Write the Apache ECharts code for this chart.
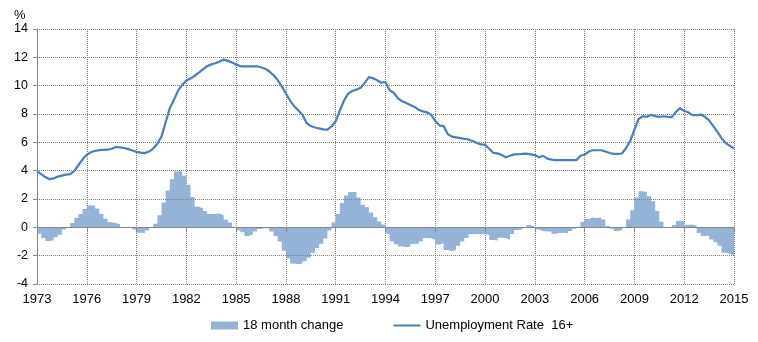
<!DOCTYPE html>
<html>
<head>
<meta charset="utf-8">
<script src="https://cdn.jsdelivr.net/npm/echarts@6/dist/echarts.min.js"></script>
<style>html,body{margin:0;padding:0;background:#fff;}#c{width:758px;height:342px;}</style>
</head>
<body>
<div id="c"></div>
<script>
// ---- data ----
const startYear = 1973;
const xTickYears = [1973,1976,1979,1982,1985,1988,1991,1994,1997,2000,2003,2006,2009,2012,2015];
const seriesNames = ['18 month change', 'Unemployment Rate  16+'];
// Unemployment rate 16+, quarterly samples from 1973.00 to 2015.00
const unemploymentRate = [
  3.96,3.75,3.55,3.40,  3.45,3.58,3.65,3.72,  3.76,3.98,4.40,4.80,  5.12,5.30,5.40,5.45,
  5.47,5.48,5.55,5.67,  5.65,5.60,5.52,5.42,  5.33,5.27,5.24,5.35,  5.56,5.90,6.40,7.40,
  8.40,9.00,9.65,10.05, 10.37,10.50,10.70,10.92, 11.15,11.38,11.50,11.58, 11.70,11.84,11.75,11.64,
  11.50,11.38,11.36,11.36, 11.36,11.37,11.30,11.20, 11.00,10.75,10.40,9.95, 9.45,8.95,8.55,8.25,
  7.95,7.35,7.15,7.05,  6.98,6.92,6.90,7.12,  7.50,8.25,8.95,9.44,  9.62,9.72,9.85,10.20,
  10.60,10.52,10.38,10.21, 10.25,9.67,9.50,9.10, 8.90,8.77,8.64,8.50, 8.30,8.18,8.12,7.95,
  7.50,7.20,7.15,6.58,  6.40,6.35,6.30,6.25,  6.20,6.10,5.95,5.85,  5.82,5.55,5.25,5.22,
  5.10,4.95,5.05,5.15,  5.16,5.18,5.20,5.15,  5.10,4.95,5.05,4.85,  4.78,4.75,4.74,4.74,
  4.74,4.74,4.74,5.05,  5.14,5.35,5.44,5.44,  5.44,5.35,5.25,5.19,  5.19,5.21,5.60,6.10,
  6.90,7.65,7.84,7.80,  7.95,7.85,7.80,7.84,  7.80,7.78,8.14,8.42,  8.21,8.12,7.92,7.92,
  7.96,7.80,7.55,7.15,  6.73,6.30,5.95,5.75,  5.57
];
// 18 month change, one value per quarter, 1973 Q1 to 2014 Q4
const change18m = [
  -0.45,-0.75,-0.97,-0.93, -0.70,-0.52,-0.15,0.02, 0.30,0.68,0.95,1.30, 1.55,1.55,1.33,0.95,
  0.60,0.36,0.30,0.21, 0,0,0,-0.15, -0.38,-0.40,-0.23,-0.03, 0.25,0.85,1.75,2.60,
  3.40,3.95,3.98,3.65, 3.00,2.15,1.45,1.34, 1.15,0.95,0.94,0.98, 0.85,0.55,0.35,0.05,
  -0.20,-0.35,-0.61,-0.50, -0.30,-0.12,-0.05,-0.08, -0.30,-0.62,-1.00,-1.65, -2.20,-2.55,-2.60,-2.55,
  -2.40,-2.15,-1.80,-1.45, -1.15,-0.78,-0.20,0.35, 0.95,1.72,2.25,2.50, 2.50,2.10,1.60,1.42,
  1.05,0.72,0.42,0.20, -0.45,-1.00,-1.20,-1.36, -1.40,-1.35,-1.17,-1.15, -1.00,-0.76,-0.77,-0.90,
  -1.22,-1.13,-1.60,-1.67, -1.60,-1.30,-1.00,-0.75, -0.48,-0.47,-0.49,-0.49, -0.54,-0.90,-0.93,-0.73,
  -0.75,-0.89,-0.47,-0.19, -0.15,0,0.16,0.05, -0.15,-0.26,-0.30,-0.30, -0.45,-0.40,-0.38,-0.42,
  -0.25,-0.10,0.05,0.38, 0.58,0.70,0.66,0.70, 0.55,0.10,-0.10,-0.26, -0.20,-0.05,0.55,1.20,
  2.10,2.55,2.50,2.20, 1.85,1.15,0.40,0, -0.05,0.16,0.45,0.45, 0.18,0.20,0.12,-0.40,
  -0.62,-0.60,-0.85,-1.05, -1.30,-1.80,-1.88,-1.98
];
const yTicks = [-4,-2,0,2,4,6,8,10,12,14];

// ---- chart ----
const FONT = '"Liberation Sans", Arial, sans-serif';
const lineData = unemploymentRate.map((v, i) => [i / 4, v]);
// each quarter's column spans [i/4, (i+1)/4]; drawn as a stepped area
const changeData = change18m.map((v, i) => [i / 4, v]);
changeData.push([change18m.length / 4, change18m[change18m.length - 1]]);
const axisGray = '#868686';
const gridGray = '#7f7f7f';
const xMax = xTickYears[xTickYears.length - 1] - startYear;

const chart = echarts.init(document.getElementById('c'), null, {renderer: 'canvas'});
chart.setOption({
  animation: false,
  backgroundColor: '#ffffff',
  textStyle: {fontFamily: FONT},
  grid: {left: 37, right: 24, top: 29, bottom: 58, containLabel: false},
  graphic: [{type: 'text', left: 14, top: 9, style: {text: '%', font: '13px ' + FONT, fill: '#000'}}],
  legend: {
    left: 206, top: 314, itemGap: 50, itemWidth: 27, itemHeight: 8,
    textStyle: {fontSize: 13, color: '#000', fontFamily: FONT},
    data: [
      {name: seriesNames[0], icon: 'rect'},
      {name: seriesNames[1], icon: 'path://M0,0H27V2H0Z'}
    ]
  },
  xAxis: [{
    type: 'value', min: 0, max: xMax, interval: 3, z: 5,
    axisLine: {show: true, onZero: true, lineStyle: {color: axisGray, width: 1}},
    axisTick: {show: true, length: 5, lineStyle: {color: axisGray}},
    axisLabel: {show: false},
    splitLine: {show: false}
  }, {
    type: 'value', min: 0, max: xMax, interval: 3, position: 'bottom',
    axisLine: {show: false, onZero: false},
    axisTick: {show: false},
    axisLabel: {show: true, margin: 9, fontSize: 13, color: '#000', fontFamily: FONT,
      formatter: v => String(v + startYear)},
    splitLine: {show: true, lineStyle: {color: gridGray, type: 'dotted', width: 1}}
  }],
  yAxis: {
    type: 'value', min: yTicks[0], max: yTicks[yTicks.length - 1], interval: 2, z: 5,
    axisLine: {show: true, lineStyle: {color: axisGray}},
    axisTick: {show: true, length: 4, lineStyle: {color: axisGray}},
    axisLabel: {margin: 9, fontSize: 12.5, color: '#000', fontFamily: FONT},
    splitLine: {show: true, lineStyle: {color: gridGray, type: 'dotted', width: 1}}
  },
  series: [{
    name: seriesNames[0], type: 'line', xAxisIndex: 0, data: changeData,
    step: 'end', symbol: 'none',
    lineStyle: {width: 0, color: '#95B3D7'},
    areaStyle: {color: '#95B3D7', opacity: 1, origin: 0},
    itemStyle: {color: '#95B3D7'}, z: 2
  }, {
    name: seriesNames[1], type: 'line', xAxisIndex: 0, data: lineData,
    symbol: 'none', lineStyle: {color: '#4A7EBB', width: 2.2}, itemStyle: {color: '#4A7EBB'}, z: 3
  }]
});
</script>
</body>
</html>
